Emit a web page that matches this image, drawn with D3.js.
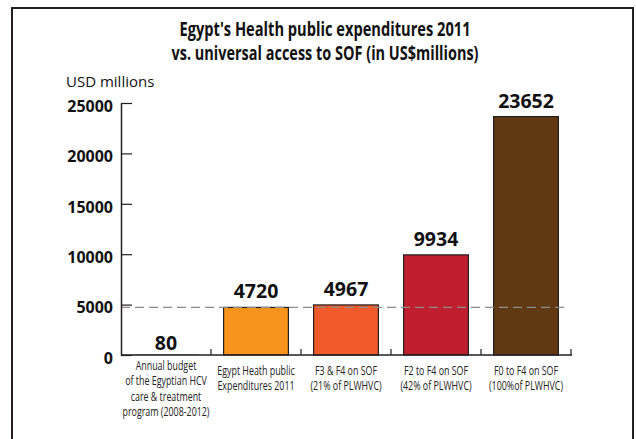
<!DOCTYPE html>
<html>
<head>
<meta charset="utf-8">
<script src="https://cdn.jsdelivr.net/npm/d3@7"></script>
<style>
  html, body { margin: 0; padding: 0; background: #fff; }
  svg { display: block; }
  .narrow { font-family: "Open Sans", "Liberation Sans", sans-serif; }
  .num { font-family: "Open Sans", "Liberation Sans", sans-serif; font-weight: 700; }
</style>
</head>
<body>
<svg id="chart" width="636" height="439"></svg>
<script>
// Spending categories (multi-line axis labels split on "\n")
const categories = [
  "Annual budget\nof the Egyptian HCV\ncare & treatment\nprogram (2008-2012)",
  "Egypt Heath public\nExpenditures 2011",
  "F3 & F4 on SOF\n(21% of PLWHVC)",
  "F2 to F4 on SOF\n(42% of PLWHVC)",
  "F0 to F4 on SOF\n(100%of PLWHVC)"
];
// Amounts in US$ millions
const values = [80, 4720, 4967, 9934, 23652];
const barColors = ["#9a9a9a", "#f7941d", "#f15a2b", "#be1e2d", "#603913"];
const yTicks = [0, 5000, 10000, 15000, 20000, 25000];
const titleLines = [
  "Egypt's Health public expenditures 2011",
  "vs. universal access to SOF (in US$millions)"
];
const yAxisTitle = "USD millions";

const svg = d3.select("#chart");
const ink = "#231f20";

// Frame around the figure (open at the bottom edge)
svg.append("rect")
  .attr("x", 12).attr("y", 8)
  .attr("width", 621).attr("height", 450)
  .attr("fill", "none").attr("stroke", ink).attr("stroke-width", 2);

// Title
svg.append("g").selectAll("text")
  .data(titleLines)
  .join("text")
  .attr("class", "narrow")
  .attr("x", 325)
  .attr("y", (d, i) => 36 + i * 23.5)
  .attr("text-anchor", "middle")
  .attr("font-size", 19)
  .attr("font-weight", 700)
  .attr("fill", "#111")
  .attr("textLength", (d, i) => [291, 307][i])
  .attr("lengthAdjust", "spacingAndGlyphs")
  .text(d => d);

// Scales
const x = d3.scaleBand()
  .domain(categories)
  .range([121, 571])
  .paddingInner(0.28)
  .paddingOuter(0.14);

const y = d3.scaleLinear()
  .domain([0, 25000])
  .range([355, 103]);

// Bars
svg.append("g").selectAll("rect")
  .data(values)
  .join("rect")
  .attr("x", (d, i) => x(categories[i]))
  .attr("y", d => y(d))
  .attr("width", x.bandwidth())
  .attr("height", d => y(0) - y(d))
  .attr("fill", (d, i) => barColors[i])
  .attr("stroke", (d, i) => i === 0 ? "none" : ink)
  .attr("stroke-width", 1.2);

// Dashed reference line at the 2011 health expenditure level
svg.append("line")
  .attr("x1", 121).attr("x2", 567)
  .attr("y1", y(values[1])).attr("y2", y(values[1]))
  .attr("stroke", "#8c8c8c")
  .attr("stroke-width", 1.2)
  .attr("stroke-dasharray", "9,5");

// Value labels above the bars
svg.append("g").selectAll("text")
  .data(values)
  .join("text")
  .attr("class", "num")
  .attr("x", (d, i) => x(categories[i]) + x.bandwidth() / 2)
  .attr("y", d => y(d) - (d < 1000 ? 4 : 9))
  .attr("text-anchor", "middle")
  .attr("font-size", 19.5)
  .attr("fill", "#111")
  .text(d => d);

// Y axis: ticks point right into the plot, labels on the left
const yAxis = d3.axisLeft(y)
  .tickValues(yTicks)
  .tickFormat(d3.format("d"))
  .tickSizeInner(-11)
  .tickSizeOuter(0)
  .tickPadding(8);

const gy = svg.append("g")
  .attr("transform", "translate(121,0)")
  .call(yAxis);
gy.select(".domain").attr("stroke", ink).attr("stroke-width", 1.5);
gy.selectAll(".tick line").attr("stroke", ink).attr("stroke-width", 1.2);
gy.selectAll(".tick text")
  .attr("class", "num")
  .attr("font-size", 16)
  .attr("fill", "#111")
  .attr("dy", "0.52em");

// Y axis title
svg.append("text")
  .attr("x", 66)
  .attr("y", 87)
  .attr("font-family", "'Open Sans', sans-serif")
  .attr("font-size", 15)
  .attr("fill", "#111")
  .text(yAxisTitle);

// X axis baseline with short upward ticks between categories
const gx = svg.append("g")
  .attr("transform", `translate(0,${y(0)})`)
  .call(d3.axisBottom(x).tickSize(0).tickFormat(""));
gx.select(".domain")
  .attr("d", `M121,0H572`)
  .attr("stroke", ink).attr("stroke-width", 1.5);

const gap = x.step() * x.paddingInner() / 2;
gx.append("g").selectAll("line")
  .data(categories)
  .join("line")
  .attr("x1", d => x(d) + x.bandwidth() + gap)
  .attr("x2", d => x(d) + x.bandwidth() + gap)
  .attr("y1", 0).attr("y2", -6)
  .attr("stroke", ink).attr("stroke-width", 1.2);

// Category labels below the baseline, horizontally compressed
const catLabels = svg.append("g").selectAll("text")
  .data(categories)
  .join("text")
  .attr("class", "narrow")
  .attr("text-anchor", "middle")
  .attr("font-size", 12)
  .attr("fill", "#222")
  .attr("transform", (d, i) => {
    const cx = x(d) + x.bandwidth() / 2;
    const cy = d.split("\n").length > 2 ? 370 : 375;
    return `translate(${cx},${cy}) scale(0.74,1)`;
  });

catLabels.selectAll("tspan")
  .data(d => d.split("\n"))
  .join("tspan")
  .attr("x", 0)
  .attr("y", (d, i) => i * 15.4)
  .text(d => d);
</script>
</body>
</html>
